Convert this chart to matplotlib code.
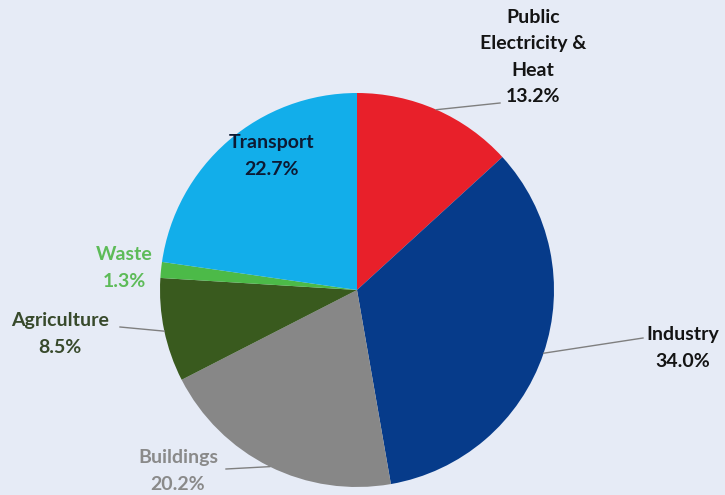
import numpy as np
import matplotlib.pyplot as plt

# Emission shares by sector (percent), clockwise from 12 o'clock
sectors = ["Public\nElectricity &\nHeat", "Industry", "Buildings", "Agriculture", "Waste", "Transport"]
shares = [13.2, 34.0, 20.2, 8.5, 1.3, 22.7]

wedge_colors = ["#e8202a", "#063b8a", "#878787", "#395a1e", "#4cba48", "#12aeea"]
text_colors = ["#141414", "#141414", "#8a8a8a", "#384a2c", "#5dbb58", "#0d1a33"]

# label centre positions (canvas pixels, y measured from the top) and leader-line ends
label_pos = [(533, 57), (683, 348), (178, 471), (60, 334), (124, 268), (272, 156)]
leader_end = [(500, 103), (643, 338), (226, 469), (120, 327), None, None]

W, H = 725, 495
BG = "#e6ebf6"
fig = plt.figure(figsize=(W / 100, H / 100), dpi=100, facecolor=BG)
ax = fig.add_axes([0, 0, 1, 1])
ax.set_facecolor(BG)

cx, cy, r = 357, H - 290, 197
wedges, _ = ax.pie(shares, colors=wedge_colors, startangle=90, counterclock=False,
                   center=(cx, cy), radius=r, frame=True,
                   wedgeprops=dict(linewidth=0))
ax.set_xlim(0, W)
ax.set_ylim(0, H)
ax.axis("off")

cum = np.cumsum([0] + shares[:-1])
for i, (name, val) in enumerate(zip(sectors, shares)):
    mid = np.deg2rad(90 - (cum[i] + val / 2) * 3.6)
    px, py = label_pos[i]
    ax.text(px, H - py, f"{name}\n{val:.1f}%", ha="center", va="center",
            fontsize=14, fontweight="bold", family="Lato",
            color=text_colors[i], linespacing=1.68)
    if leader_end[i] is not None:
        sx, sy = cx + r * np.cos(mid), cy + r * np.sin(mid)
        ex, ey = leader_end[i]
        ax.plot([sx, ex], [sy, H - ey], color="#7f7f7f", lw=1)

fig.savefig("out.png", dpi=100, facecolor=BG)
